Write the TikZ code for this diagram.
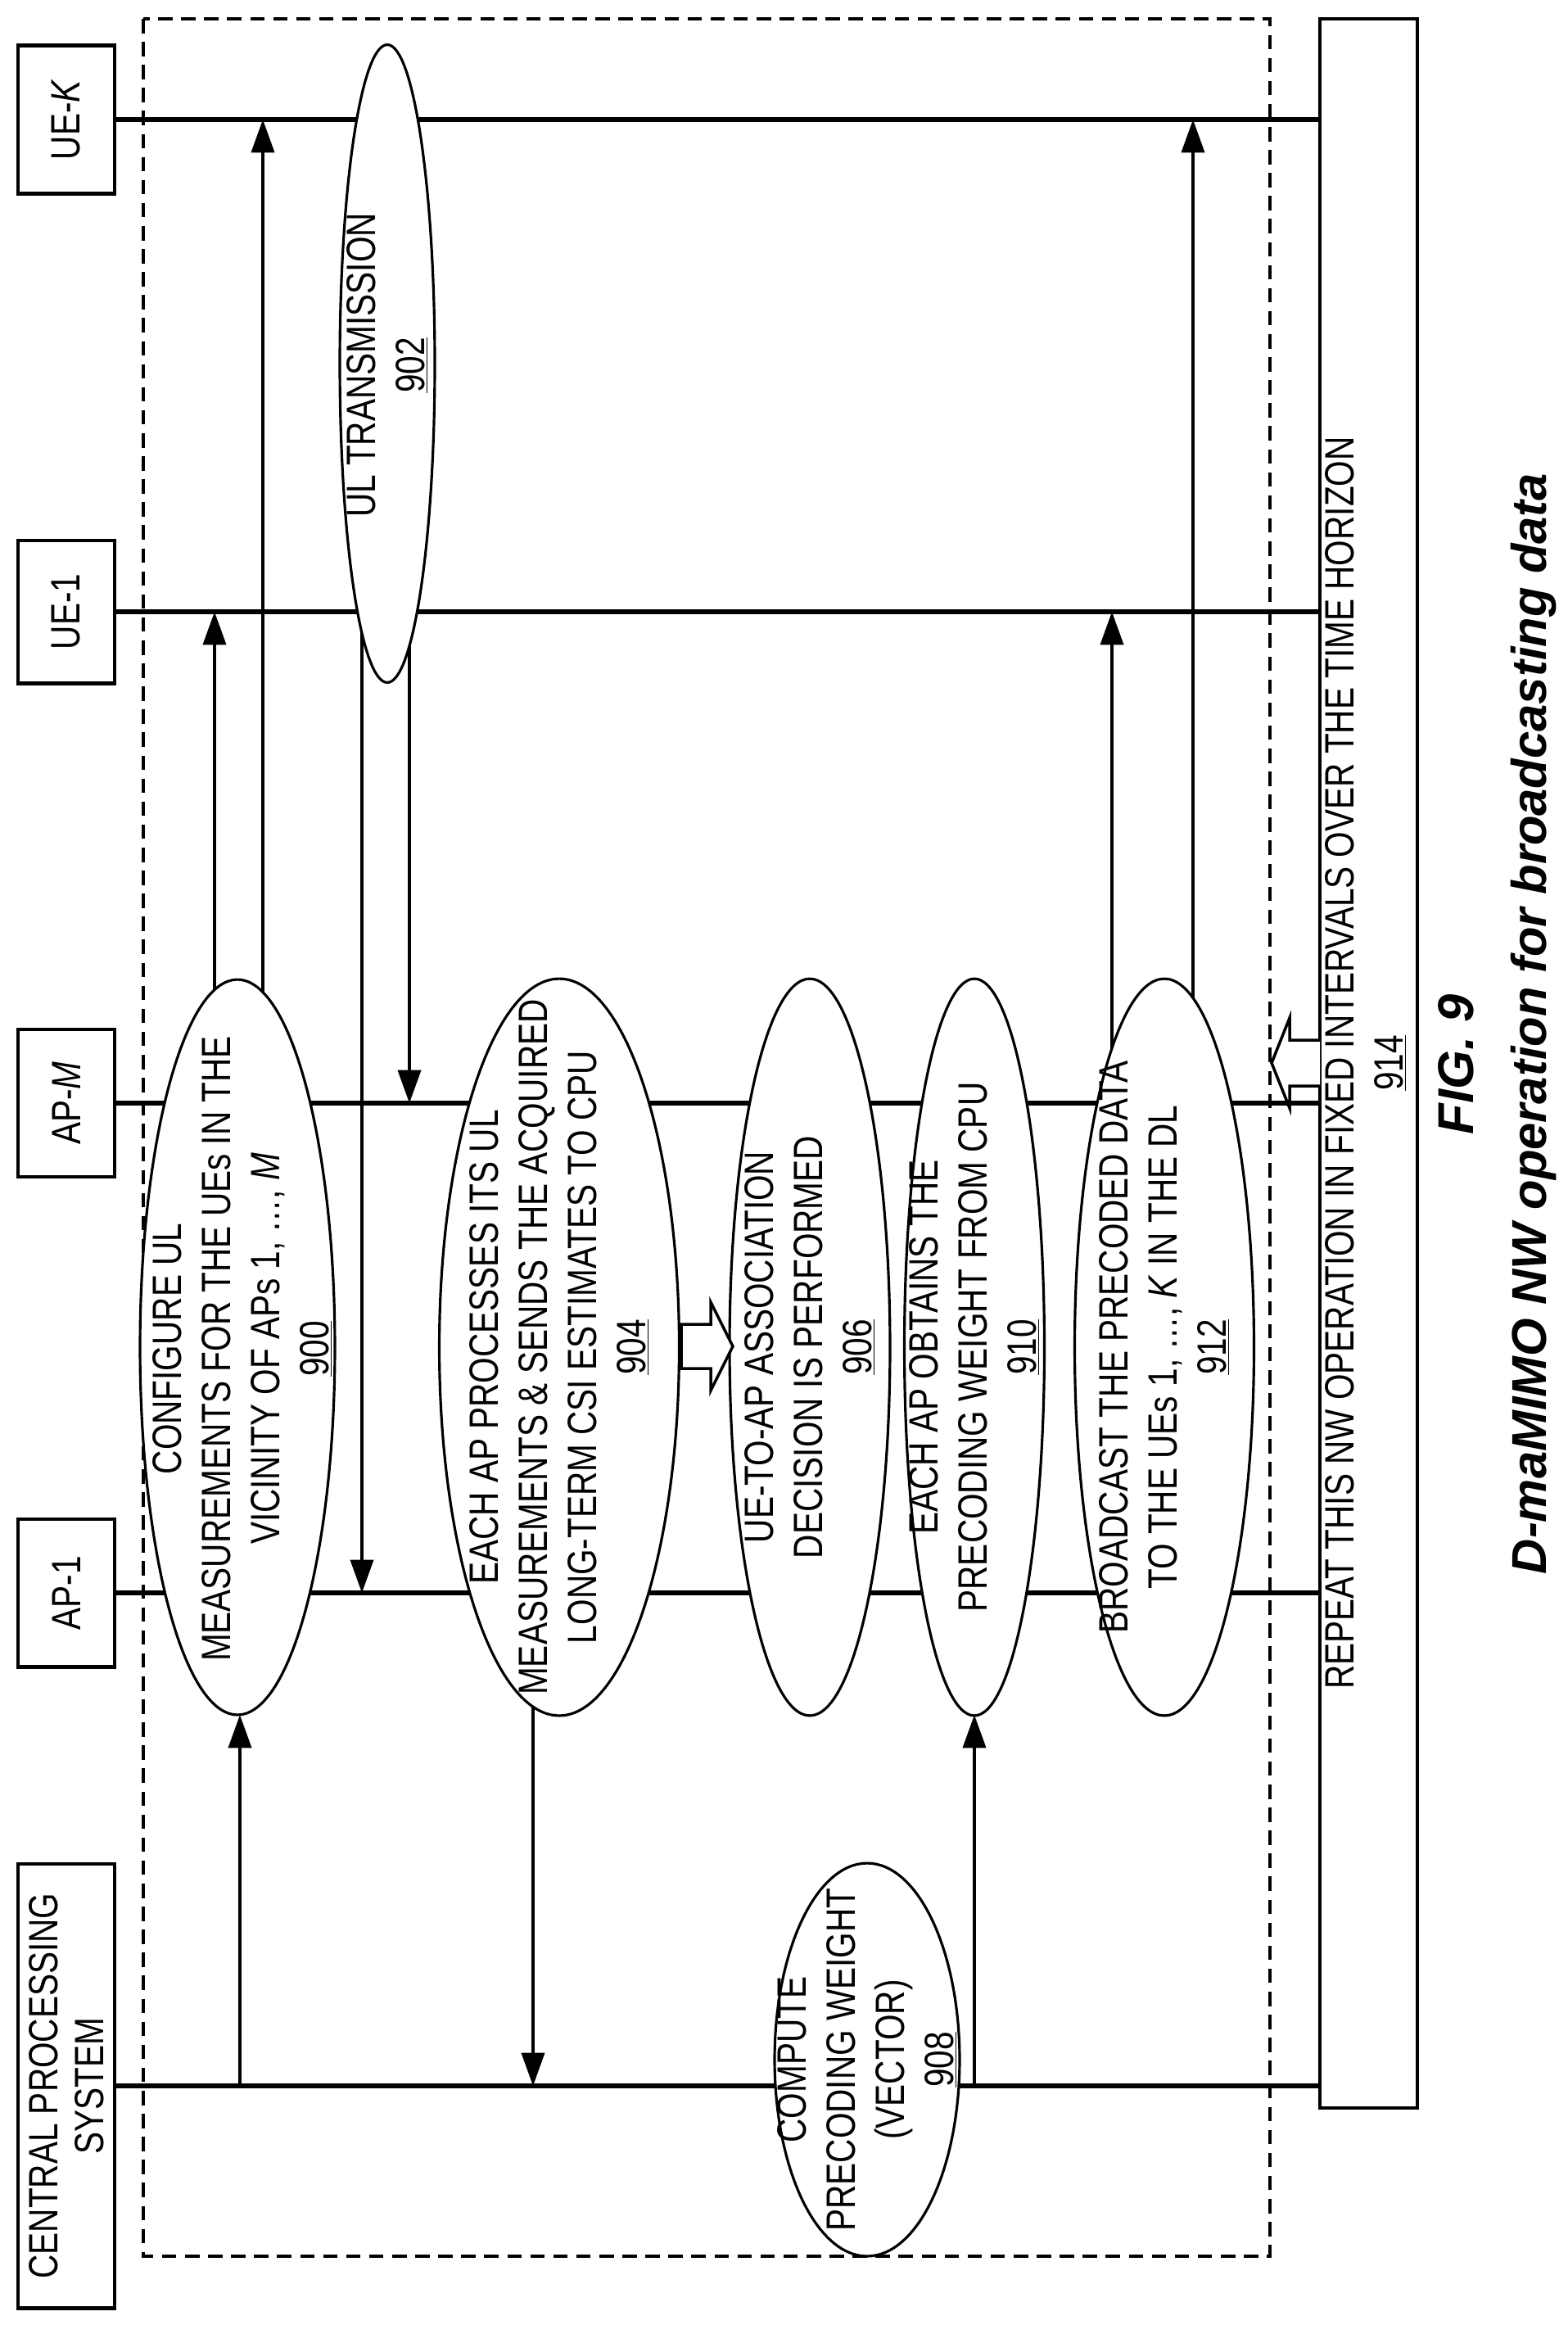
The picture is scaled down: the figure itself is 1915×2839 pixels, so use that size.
\documentclass[tikz,border=0pt]{standalone}
\usepackage{fontspec}
\setmainfont{Liberation Sans}
\newfontfamily\narrowf{Liberation Sans}[FakeStretch=0.81]
\usetikzlibrary{shapes.geometric,arrows.meta}
\begin{document}
\begin{tikzpicture}[x=0.02cm,y=-0.02cm,
  txt/.style={font=\narrowf\fontsize{28.5}{34}\selectfont,align=center,rotate=90,inner sep=0},
  box/.style={draw,line width=2.3pt,rotate=90,inner sep=0,font=\narrowf\fontsize{28.5}{32}\selectfont,align=center},
  life/.style={line width=3.2pt},
  ell/.style={draw,ellipse,fill=white,line width=1.8pt,rotate=90,inner sep=0},
  arr/.style={line width=2pt,-{Triangle[length=23pt,width=16pt]}},
  hollow/.style={draw,fill=white,line width=2pt,line join=miter}]
\useasboundingbox (0,0) rectangle (1915,2839);
% dashed frame
\draw[dashed,line width=1.8pt,dash pattern=on 10pt off 6pt] (175,23) rectangle (1551,2755);
% header boxes
\node[box,minimum width=3.62cm,minimum height=2.36cm] (uek) at (81,146) {UE-\textit{K}};
\node[box,minimum width=3.5cm,minimum height=2.36cm] (ue1) at (81,747) {UE-1};
\node[box,minimum width=3.6cm,minimum height=2.36cm] (apm) at (81,1347) {AP-\textit{M}};
\node[box,minimum width=3.62cm,minimum height=2.36cm] (ap1) at (81,1945) {AP-1};
\node[box,minimum width=10.86cm,minimum height=2.36cm] (cps) at (81,2547) {CENTRAL PROCESSING\\SYSTEM};
% repeat box
\node[box,minimum width=51.02cm,minimum height=2.38cm] (rep) at (1671.5,1298.5) {};
\node[txt] (reptxt) at (1668,1298) {REPEAT THIS NW OPERATION IN FIXED INTERVALS OVER THE TIME HORIZON\\\underline{914}};
% lifelines
\draw[life] (uek.south) -- (1612,146) coordinate (uekE);
\draw[life] (ue1.south) -- (1612,747) coordinate (ue1E);
\draw[life] (apm.south) -- (1612,1347) coordinate (apmE);
\draw[life] (ap1.south) -- (1612,1945) coordinate (ap1E);
\draw[life] (cps.south) -- (1612,2547) coordinate (cpsE);
% arrows (start inside ellipses; white fill hides the start)
\draw[arr] (262,1645) -- (262,747);
\draw[arr] (321,1645) -- (321,146);
\draw[arr] (293,2547) -- (293,2094);
\draw[arr] (442,500) -- (442,1945);
\draw[arr] (500,500) -- (500,1347);
\draw[arr] (651,1645) -- (651,2547);
\draw[arr] (1190,2547) -- (1190,2094);
\draw[arr] (1358,1645) -- (1358,747);
\draw[arr] (1457,1645) -- (1457,146);
% ellipses
\node[ell,minimum width=17.96cm,minimum height=4.76cm] (e900) at (290,1645) {};
\node[txt] at (296,1647) {CONFIGURE UL\\MEASUREMENTS FOR THE UEs IN THE\\VICINITY OF APs 1, \dots, \textit{M}\\\underline{900}};
\node[ell,minimum width=15.58cm,minimum height=2.32cm] (e902) at (473,444) {};
\node[txt] at (473,446) {UL TRANSMISSION\\\underline{902}};
\node[ell,minimum width=18cm,minimum height=5.86cm] (e904) at (683,1645) {};
\node[txt] at (683,1645) {EACH AP PROCESSES ITS UL\\MEASUREMENTS \& SENDS THE ACQUIRED\\LONG-TERM CSI ESTIMATES TO CPU\\\underline{904}};
\node[ell,minimum width=18cm,minimum height=3.92cm] (e906) at (989,1645) {};
\node[txt] at (989,1645) {UE-TO-AP ASSOCIATION\\DECISION IS PERFORMED\\\underline{906}};
\node[ell,minimum width=18cm,minimum height=3.42cm] (e910) at (1190,1645) {};
\node[txt] at (1190,1645) {EACH AP OBTAINS THE\\PRECODING WEIGHT FROM CPU\\\underline{910}};
\node[ell,minimum width=18cm,minimum height=4.38cm] (e912) at (1422,1645) {};
\node[txt] at (1422,1645) {BROADCAST THE PRECODED DATA\\TO THE UEs 1, \dots, \textit{K} IN THE DL\\\underline{912}};
\node[ell,minimum width=9.6cm,minimum height=4.52cm] (e908) at (1059,2515) {};
\node[txt] at (1059,2515) {COMPUTE\\PRECODING WEIGHT\\(VECTOR)\\\underline{908}};
% hollow block arrows
\draw[hollow] (832,1617) -- (868,1617) -- (868,1590) -- (895,1644) -- (868,1698) -- (868,1671) -- (832,1671) -- cycle;
\draw[hollow] (1612,1270) -- (1575,1270) -- (1575,1243) -- (1553,1298) -- (1575,1353) -- (1575,1326) -- (1612,1326);
% caption
\node[txt,font=\fontsize{35}{44}\selectfont\bfseries\itshape] (fig) at (1778,1300) {FIG. 9};
\node[txt,font=\fontsize{34}{40}\selectfont\bfseries\itshape] (cap) at (1873,1250) {D-maMIMO NW operation for broadcasting data};
\end{tikzpicture}
\end{document}
